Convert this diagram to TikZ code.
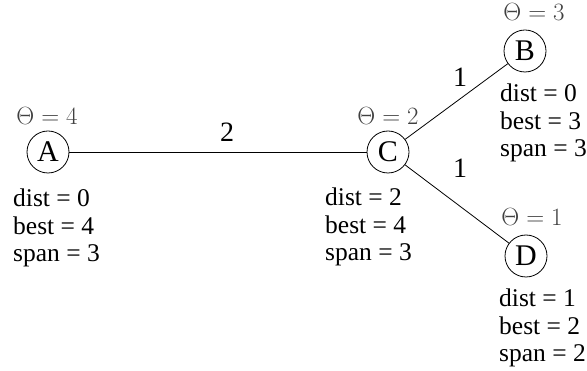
\documentclass[tikz,border=0pt]{standalone}
\usepackage{fontspec}
\setmainfont{Liberation Serif}
\begin{document}
\begin{tikzpicture}[x=1pt,y=-1pt,
  vert/.style={circle,draw,line width=0.8pt,minimum size=42pt,inner sep=0pt,font=\fontsize{30}{30}\selectfont},
  theta/.style={font=\fontsize{26.5}{26.5}\selectfont,text=black!75,inner sep=0pt},
  info/.style={font=\fontsize{25.5}{27.5}\selectfont,align=left,anchor=north west,inner sep=0pt},
  wlab/.style={font=\fontsize{28}{28}\selectfont,inner sep=0pt},
  edge/.style={line width=0.8pt}]
\useasboundingbox (0,0) rectangle (587,371);
\node[vert] (A) at (48,152) {A};
\node[vert] (C) at (388,152) {C};
\node[vert] (B) at (525,51) {B};
\node[vert] (D) at (526,256) {D};
\node[theta] (tA) at (47,116) {$\Theta=4$};
\node[theta] (tC) at (388,116) {$\Theta=2$};
\node[theta] (tB) at (534,12) {$\Theta=3$};
\node[theta] (tD) at (532,217) {$\Theta=1$};
\draw[edge] (A) -- (C);
\draw[edge] (C) -- (B);
\draw[edge] (C) -- (D);
\node[wlab] (w1) at (227,132) {2};
\node[wlab] (w2) at (460,77) {1};
\node[wlab] (w3) at (460,168) {1};
\node[info] (iA) at (13,189) {dist = 0\\best = 4\\span = 3};
\node[info] (iC) at (325,188) {dist = 2\\best = 4\\span = 3};
\node[info] (iB) at (500,84) {dist = 0\\best = 3\\span = 3};
\node[info] (iD) at (499,289) {dist = 1\\best = 2\\span = 2};
\end{tikzpicture}
\end{document}
